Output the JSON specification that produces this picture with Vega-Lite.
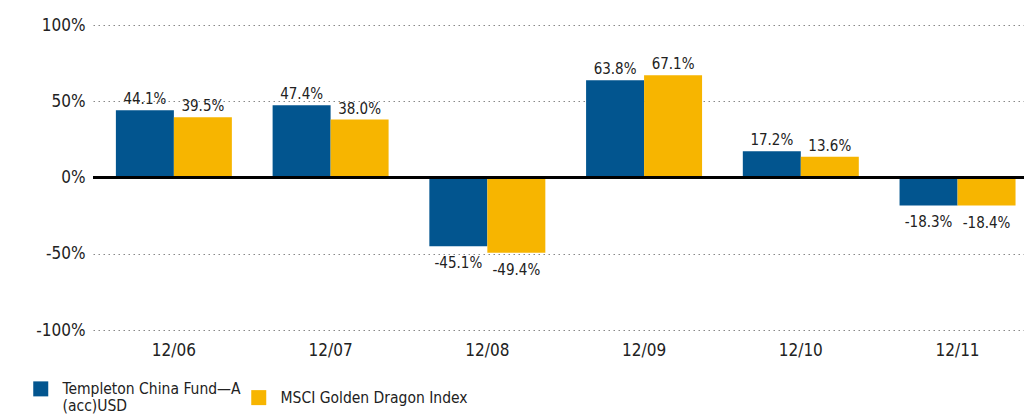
{
  "$schema": "https://vega.github.io/schema/vega-lite/v6.json",
  "autosize": {"type": "none"},
  "width": 931,
  "height": 305,
  "padding": {"left": 93, "top": 25, "right": 0, "bottom": 85},
  "background": "white",
  "config": {
    "font": "DejaVu Sans Condensed, Liberation Sans Narrow, Roboto Condensed, sans-serif",
    "view": {"stroke": null}
  },
  "data": {
    "values": [
      {"period": "12/06", "series": "Templeton China Fund—A (acc)USD", "value": 44.1},
      {"period": "12/06", "series": "MSCI Golden Dragon Index", "value": 39.5},
      {"period": "12/07", "series": "Templeton China Fund—A (acc)USD", "value": 47.4},
      {"period": "12/07", "series": "MSCI Golden Dragon Index", "value": 38.0},
      {"period": "12/08", "series": "Templeton China Fund—A (acc)USD", "value": -45.1},
      {"period": "12/08", "series": "MSCI Golden Dragon Index", "value": -49.4},
      {"period": "12/09", "series": "Templeton China Fund—A (acc)USD", "value": 63.8},
      {"period": "12/09", "series": "MSCI Golden Dragon Index", "value": 67.1},
      {"period": "12/10", "series": "Templeton China Fund—A (acc)USD", "value": 17.2},
      {"period": "12/10", "series": "MSCI Golden Dragon Index", "value": 13.6},
      {"period": "12/11", "series": "Templeton China Fund—A (acc)USD", "value": -18.3},
      {"period": "12/11", "series": "MSCI Golden Dragon Index", "value": -18.4}
    ]
  },
  "transform": [
    {"calculate": "replace(format(datum.value, '.1f'), '\u2212', '-') + '%'", "as": "label"}
  ],
  "encoding": {
    "x": {
      "field": "period", "type": "nominal", "sort": null,
      "scale": {"paddingInner": 0.26, "paddingOuter": 0.1, "align": 0.73},
      "axis": {"title": null, "ticks": false, "domain": false, "labelAngle": 0, "labelFontSize": 17, "labelColor": "#222", "labelPadding": 12}
    },
    "xOffset": {"field": "series", "type": "nominal", "sort": ["Templeton China Fund—A (acc)USD", "MSCI Golden Dragon Index"], "scale": {"paddingInner": 0, "paddingOuter": 0}}
  },
  "layer": [
    {
      "mark": {"type": "bar"},
      "encoding": {
        "y": {
          "field": "value", "type": "quantitative",
          "scale": {"domain": [-100, 100], "nice": false},
          "axis": {"title": null, "values": [-100, -50, 0, 50, 100], "labelExpr": "datum.value + '%'", "ticks": false, "domain": false, "grid": true, "gridDash": [1.5, 3.5], "gridColor": "#888", "gridWidth": 1.2, "labelFontSize": 17, "labelColor": "#222", "labelPadding": 8}
        },
        "color": {
          "field": "series", "type": "nominal",
          "sort": ["Templeton China Fund—A (acc)USD", "MSCI Golden Dragon Index"],
          "scale": {"domain": ["Templeton China Fund—A (acc)USD", "MSCI Golden Dragon Index"], "range": ["#02558F", "#F7B500"]},
          "legend": {
            "title": null, "orient": "none", "legendX": -60, "legendY": 356, "direction": "horizontal",
            "symbolType": "square", "symbolSize": 225, "symbolStrokeWidth": 0, "symbolOpacity": 1,
            "labelFontSize": 15.5, "labelColor": "#222", "labelOffset": 14, "columnPadding": 10,
            "labelLimit": 300,
            "labelExpr": "datum.label == 'Templeton China Fund—A (acc)USD' ? ['Templeton China Fund—A', '(acc)USD'] : datum.label"
          }
        }
      }
    },
    {
      "mark": {"type": "rule", "color": "black", "strokeWidth": 2.5},
      "encoding": {"y": {"datum": 0}, "x": null, "xOffset": null}
    },
    {
      "transform": [{"filter": "datum.value >= 0"}],
      "mark": {"type": "text", "baseline": "bottom", "dy": -3, "fontSize": 15, "color": "#222"},
      "encoding": {
        "y": {"field": "value", "type": "quantitative"},
        "text": {"field": "label", "type": "nominal"},
        "detail": {"field": "series"}
      }
    },
    {
      "transform": [{"filter": "datum.value < 0"}],
      "mark": {"type": "text", "baseline": "top", "dy": 10, "fontSize": 15, "color": "#222"},
      "encoding": {
        "y": {"field": "value", "type": "quantitative"},
        "text": {"field": "label", "type": "nominal"},
        "detail": {"field": "series"}
      }
    }
  ]
}
